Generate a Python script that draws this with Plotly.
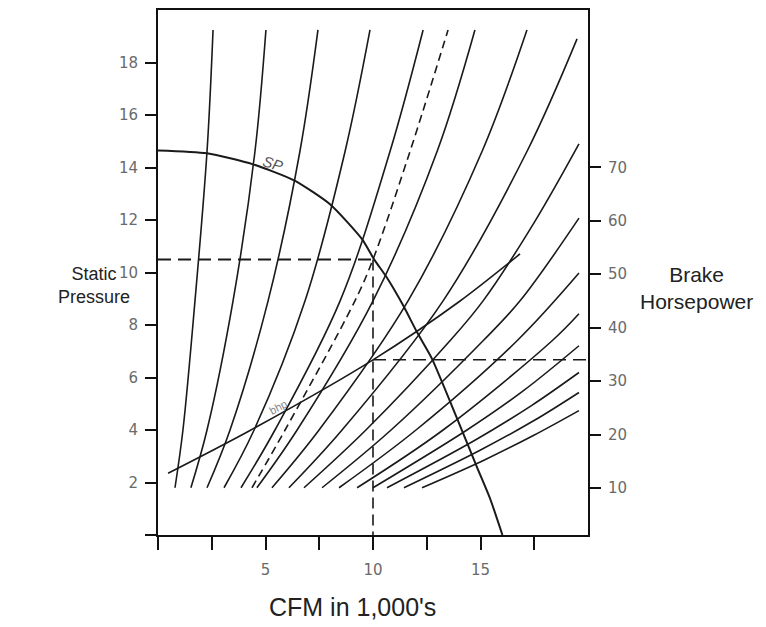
import plotly.graph_objects as go

# ---------------- data ----------------
# Family of fan curves: CFM (1,000's) vs static pressure (in. w.g.)
curve_cfm = [
    [0.79, 1.16, 1.72, 2.28, 2.56],
    [1.53, 2.28, 3.49, 4.51, 5.02],
    [2.28, 3.35, 5.12, 6.60, 7.44],
    [3.07, 4.47, 6.84, 8.70, 9.86],
    [3.86, 5.44, 8.47, 10.79, 12.33],
    [4.60, 6.47, 10.00, 12.98, 14.74],
    [5.30, 7.49, 11.63, 15.07, 17.16],
    [6.09, 8.56, 13.26, 17.16, 19.49],
    [6.79, 9.67, 13.58, 15.12, 17.53, 19.58],
    [7.63, 10.84, 15.12, 16.84, 19.58],
    [8.42, 12.00, 16.70, 19.58],
    [9.26, 13.26, 18.33, 19.58],
    [10.00, 14.37, 17.00, 19.58],
    [10.65, 14.74, 17.37, 19.58],
    [11.44, 14.98, 17.49, 19.58],
    [12.28, 15.16, 17.48, 19.58],
]
curve_sp = [
    [1.8, 4.0, 8.92, 14.61, 19.24],
    [1.8, 4.0, 8.92, 14.61, 19.24],
    [1.8, 4.0, 8.92, 14.61, 19.24],
    [1.8, 4.0, 8.92, 14.61, 19.24],
    [1.8, 4.0, 8.92, 14.61, 19.24],
    [1.8, 4.0, 8.92, 14.61, 19.24],
    [1.8, 4.0, 8.92, 14.61, 19.24],
    [1.8, 4.0, 8.92, 14.61, 18.90],
    [1.8, 4.0, 7.40, 8.92, 11.95, 14.90],
    [1.8, 4.0, 7.40, 8.92, 12.07],
    [1.8, 4.0, 7.40, 9.98],
    [1.8, 4.0, 7.40, 8.43],
    [1.8, 4.0, 5.50, 7.21],
    [1.8, 3.61, 4.93, 6.19],
    [1.8, 3.23, 4.36, 5.43],
    [1.8, 2.85, 3.80, 4.74],
]

# System curve (dashed)
system_cfm = [4.37, 5.91, 9.16, 10.0, 11.72, 13.49]
system_sp = [1.8, 4.0, 8.92, 10.5, 14.61, 19.24]

# SP (fan static pressure) curve
sp_cfm = [0, 2.28, 4.42, 6.33, 8.0, 9.49, 10.05, 10.65, 11.4, 12.05, 12.74, 13.95, 14.84, 15.44, 16.02]
sp_val = [14.65, 14.54, 14.12, 13.51, 12.6, 11.27, 10.5, 9.8, 8.75, 7.72, 6.72, 4.36, 2.58, 1.4, 0.0]

# Brake horsepower curve (right axis)
bhp_cfm = [0.47, 4.28, 10.0, 14.05, 16.84]
bhp_val = [12.8, 20.8, 34.0, 45.0, 53.8]

# Operating point
op_cfm = 10.0
op_sp = 10.5
op_bhp = 34.0

x_ticks = [0, 2.5, 5, 7.5, 10, 12.5, 15, 17.5]
x_ticktext = ["", "", "5", "", "10", "", "15", ""]
y_ticks = [0, 2, 4, 6, 8, 10, 12, 14, 16, 18]
y_ticktext = ["", "2", "4", "6", "8", "10", "12", "14", "16", "18"]
y2_ticks = [10, 20, 30, 40, 50, 60, 70]

# ---------------- figure ----------------
INK = "#1a1a1a"
fig = go.Figure()

for cx, cy in zip(curve_cfm, curve_sp):
    fig.add_trace(go.Scatter(x=cx, y=cy, mode="lines",
                             line=dict(color=INK, width=1.6, shape="spline", smoothing=1.0),
                             hoverinfo="skip", showlegend=False))

fig.add_trace(go.Scatter(x=system_cfm, y=system_sp, mode="lines",
                         line=dict(color=INK, width=1.6, dash="8px,5px", shape="spline", smoothing=1.0),
                         hoverinfo="skip", showlegend=False))

fig.add_trace(go.Scatter(x=sp_cfm, y=sp_val, mode="lines",
                         line=dict(color=INK, width=2, shape="spline", smoothing=0.6),
                         hoverinfo="skip", showlegend=False))

fig.add_trace(go.Scatter(x=bhp_cfm, y=bhp_val, mode="lines", yaxis="y2",
                         line=dict(color=INK, width=1.6, shape="spline", smoothing=0.8),
                         hoverinfo="skip", showlegend=False))

# dashed guide lines for the operating point
fig.add_trace(go.Scatter(x=[0, op_cfm], y=[op_sp, op_sp], mode="lines",
                         line=dict(color=INK, width=2, dash="13px,7px"),
                         hoverinfo="skip", showlegend=False))
fig.add_trace(go.Scatter(x=[op_cfm, op_cfm], y=[op_sp, 0], mode="lines",
                         line=dict(color=INK, width=1.6, dash="11px,6px"),
                         hoverinfo="skip", showlegend=False))
fig.add_trace(go.Scatter(x=[op_cfm, 20], y=[op_bhp, op_bhp], mode="lines", yaxis="y2",
                         line=dict(color=INK, width=1.6, dash="13px,7px"),
                         hoverinfo="skip", showlegend=False))

tick_font = dict(family="DejaVu Sans", size=15, color="#6a6a6a")
FONT = "Liberation Sans, Arial"

fig.update_layout(
    width=766, height=627,
    margin=dict(l=150, r=186, t=0, b=100),
    paper_bgcolor="white", plot_bgcolor="white",
    showlegend=False,
    xaxis=dict(range=[0, 20], showgrid=False, zeroline=False,
               showline=True, linecolor="#111111", linewidth=2, mirror=True,
               ticks="outside", ticklen=13, tickwidth=2, tickcolor="#111111",
               tickvals=x_ticks, ticktext=x_ticktext, tickfont=tick_font,
               ticklabelstandoff=7),
    yaxis=dict(range=[0, 20], showgrid=False, zeroline=False,
               showline=True, linecolor="#111111", linewidth=2,
               ticks="outside", ticklen=11, tickwidth=2, tickcolor="#111111",
               tickvals=y_ticks, ticktext=y_ticktext, tickfont=tick_font,
               ticklabelstandoff=4),
    yaxis2=dict(range=[1.25, 99.4], overlaying="y", side="right",
                showgrid=False, zeroline=False,
                showline=True, linecolor="#111111", linewidth=2,
                ticks="outside", ticklen=11, tickwidth=2, tickcolor="#111111",
                tickvals=y2_ticks, tickfont=tick_font, ticklabelstandoff=4),
    annotations=[
        dict(text="Static<br>Pressure", xref="paper", yref="paper", x=-0.148, y=0.475,
             xanchor="center", yanchor="middle", showarrow=False,
             font=dict(family=FONT, size=18, color="#222222")),
        dict(text="Brake<br>Horsepower", xref="paper", yref="paper", x=1.252, y=0.47,
             xanchor="center", yanchor="middle", showarrow=False,
             font=dict(family=FONT, size=21, color="#222222")),
        dict(text="CFM in 1,000's", xref="paper", yref="paper", x=0.453, y=-0.137,
             xanchor="center", yanchor="middle", showarrow=False,
             font=dict(family=FONT, size=25, color="#222222")),
        dict(text="<i>SP</i>", x=5.36, y=14.17, xref="x", yref="y", showarrow=False,
             textangle=17, font=dict(family=FONT, size=15, color="#555555")),
        dict(text="bhp", x=5.6, y=4.87, xref="x", yref="y", showarrow=False,
             textangle=-29, font=dict(family=FONT, size=11, color="#888888")),
    ],
)

fig.write_html("out.html")
